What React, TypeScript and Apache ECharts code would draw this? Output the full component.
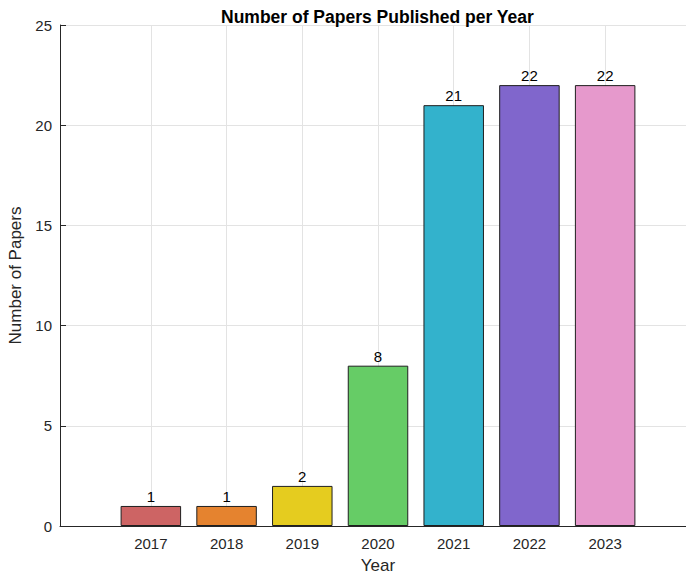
import React, { useEffect, useRef } from "react";
import * as echarts from "echarts";

const years = [2017, 2018, 2019, 2020, 2021, 2022, 2023];
const papers = [1, 1, 2, 8, 21, 22, 22];
const barColors = ["#CD6464", "#E5832F", "#E5CC1F", "#66CC66", "#33B2CC", "#8066CC", "#E699CC"];
const yTicks = [0, 5, 10, 15, 20, 25];

const FONT = "'Liberation Sans', Arial, Helvetica, sans-serif";

export default function App() {
  const ref = useRef<HTMLDivElement>(null);
  useEffect(() => {
    if (!ref.current) return;
    const chart = echarts.init(ref.current, undefined, { renderer: "svg" });
    chart.setOption({
      animation: false,
      backgroundColor: "#ffffff",
      textStyle: { fontFamily: FONT },
      title: {
        text: "Number of Papers Published per Year",
        left: 216,
        top: 3,
        textStyle: { fontFamily: FONT, fontSize: 17.5, fontWeight: "bold", color: "#000" },
      },
      grid: { left: 60, top: 25, width: 636, height: 501, containLabel: false, outerBoundsMode: "none" },
      xAxis: {
        type: "value",
        min: 2015.8,
        max: 2024.2,
        name: "Year",
        nameLocation: "middle",
        nameGap: 31,
        nameTextStyle: { fontFamily: FONT, fontSize: 17, color: "#262626" },
        axisLine: { show: true, onZero: false, lineStyle: { color: "#262626", width: 1 } },
        axisTick: { show: true, inside: true, length: 5, customValues: years, lineStyle: { color: "#262626" } },
        axisLabel: {
          customValues: years,
          fontFamily: FONT,
          fontSize: 15,
          color: "#262626",
          margin: 10,
          formatter: (v: number) => String(Math.round(v)),
        },
        splitLine: { show: true, lineStyle: { color: "#e3e3e3", width: 1 } },
      },
      yAxis: {
        type: "value",
        min: yTicks[0],
        max: yTicks[yTicks.length - 1],
        interval: 5,
        name: "Number of Papers",
        nameLocation: "middle",
        nameGap: 29,
        nameTextStyle: { fontFamily: FONT, fontSize: 17, color: "#262626" },
        axisLine: { show: true, lineStyle: { color: "#262626", width: 1 } },
        axisTick: { show: true, inside: true, length: 6, lineStyle: { color: "#262626" } },
        axisLabel: { fontFamily: FONT, fontSize: 15, color: "#262626", margin: 8 },
        splitLine: { show: true, lineStyle: { color: "#e3e3e3", width: 1 } },
      },
      series: [
        {
          type: "bar",
          barWidth: 60.5,
          data: years.map((y, i) => ({
            value: [y, papers[i]],
            itemStyle: { color: barColors[i], borderColor: "#1f1f1f", borderWidth: 1 },
          })),
          label: {
            show: true,
            position: "top",
            distance: 2,
            fontFamily: FONT,
            fontSize: 15,
            color: "#000",
            formatter: (p: any) => String(p.value[1]),
          },
        },
      ],
    });
    return () => chart.dispose();
  }, []);
  return (
    <div
      ref={ref}
      style={{ position: "absolute", left: 0, top: 0, width: 686, height: 577, background: "#fff" }}
    />
  );
}
